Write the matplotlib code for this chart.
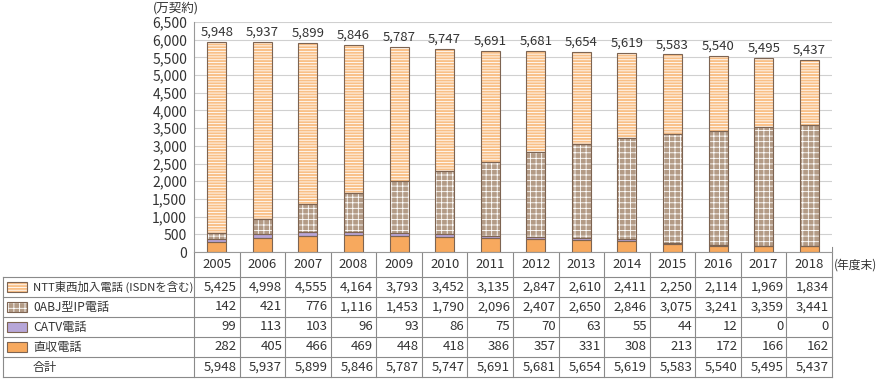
import numpy as np
import matplotlib.pyplot as plt
from matplotlib.patches import Rectangle

plt.rcParams['font.family'] = ['Noto Sans CJK JP', 'DejaVu Sans']
plt.rcParams['hatch.linewidth'] = 0.6

years = ['2005', '2006', '2007', '2008', '2009', '2010', '2011',
         '2012', '2013', '2014', '2015', '2016', '2017', '2018']
ntt = [5425, 4998, 4555, 4164, 3793, 3452, 3135, 2847, 2610, 2411, 2250, 2114, 1969, 1834]
oabj = [142, 421, 776, 1116, 1453, 1790, 2096, 2407, 2650, 2846, 3075, 3241, 3359, 3441]
catv = [99, 113, 103, 96, 93, 86, 75, 70, 63, 55, 44, 12, 0, 0]
direct = [282, 405, 466, 469, 448, 418, 386, 357, 331, 308, 213, 172, 166, 162]
total = [5948, 5937, 5899, 5846, 5787, 5747, 5691, 5681, 5654, 5619, 5583, 5540, 5495, 5437]

names = ['NTT東西加入電話 (ISDNを含む)', '0ABJ型IP電話', 'CATV電話', '直収電話']
colors = ['#f9c087', '#b39b86', '#b7a6d8', '#f7a95e']
hatches = ['------', '+++', '', '']
edge = '#7d6452'
txt = '#333333'

W, H = 879, 379
fig = plt.figure(figsize=(W / 100, H / 100), dpi=100)

x0, x1 = 194, 832
ytop, ybot = 22, 252
ax = fig.add_axes([x0 / W, 1 - ybot / H, (x1 - x0) / W, (ybot - ytop) / H])

x = np.arange(len(years))
bw = 0.42
bottom = np.zeros(len(years))
series = [direct, catv, oabj, ntt]
order = [3, 2, 1, 0]
for vals, k in zip(series, order):
    v = np.array(vals, dtype=float)
    ax.bar(x, v, bw, bottom=bottom, color=colors[k], hatch=hatches[k],
           edgecolor='white', linewidth=0, zorder=2)
    ax.bar(x, v, bw, bottom=bottom, fill=False, edgecolor=edge,
           linewidth=0.8, zorder=3)
    bottom += v

for i, t in enumerate(total):
    ax.text(i, t + 90, f'{t:,}', ha='center', va='bottom', fontsize=9.5, color=txt)

ax.set_xlim(-0.5, len(years) - 0.5)
ax.set_ylim(0, 6500)
ax.set_yticks(np.arange(0, 6501, 500))
ax.set_yticklabels([f'{v:,}' for v in range(0, 6501, 500)])
ax.tick_params(axis='y', length=0, labelsize=10, labelcolor=txt, pad=5)
ax.set_xticks([])
ax.grid(axis='y', color='#d0d0d0', linewidth=0.8, zorder=0)
for s in ['top', 'right']:
    ax.spines[s].set_visible(False)
for s in ['left', 'bottom']:
    ax.spines[s].set_color('#999999')
    ax.spines[s].set_linewidth(0.8)

# table below the chart, in figure pixel coordinates
tab = fig.add_axes([0, 0, 1, 1], zorder=-1)
tab.set_xlim(0, W)
tab.set_ylim(H, 0)
tab.axis('off')

tab.text(176, 8, '(万契約)', ha='center', va='center', fontsize=9, color=txt)

cw = (x1 - x0) / len(years)
rows = [277, 297, 317, 337, 357, 377]
lc = '#8a8a8a'
for yy in rows:
    tab.plot([3, x1], [yy, yy], color=lc, lw=0.8)
tab.plot([3, 3], [rows[0], rows[-1]], color=lc, lw=0.8)
tab.plot([x0, x0], [ybot, rows[-1]], color=lc, lw=0.8)
for i in range(1, len(years) + 1):
    tab.plot([x0 + i * cw] * 2, [247, rows[-1]], color=lc, lw=0.8)

for i, yr in enumerate(years):
    tab.text(x0 + (i + 0.5) * cw, 265, yr, ha='center', va='center', fontsize=9.5, color=txt)
tab.text(x1 + 2, 265, '(年度末)', ha='left', va='center', fontsize=8.5, color=txt)

table_rows = [ntt, oabj, catv, direct, total]
labels = names + ['合計']
for r, (lab, vals) in enumerate(zip(labels, table_rows)):
    yc = (rows[r] + rows[r + 1]) / 2
    if r < 4:
        tab.add_patch(Rectangle((7, yc - 5), 20, 10, facecolor=colors[r], hatch=hatches[r],
                                edgecolor='white', linewidth=0))
        tab.add_patch(Rectangle((7, yc - 5), 20, 10, fill=False, edgecolor=edge, linewidth=0.8))
    fs = 8.2 if r == 0 else 8.7
    tab.text(33, yc, lab, ha='left', va='center', fontsize=fs, color=txt)
    for i, v in enumerate(vals):
        tab.text(x0 + (i + 1) * cw - 3, yc, f'{v:,}', ha='right', va='center',
                 fontsize=9.5, color=txt)

fig.savefig('out.png', dpi=100)
